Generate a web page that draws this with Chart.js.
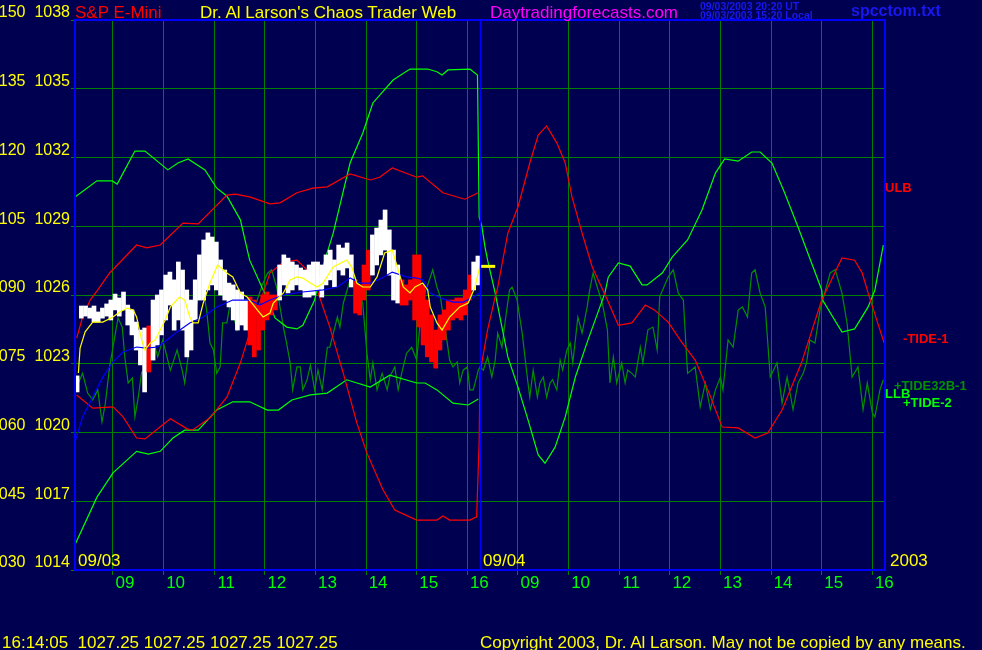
<!DOCTYPE html>
<html>
<head>
<meta charset="utf-8">
<script src="https://cdn.jsdelivr.net/npm/chart.js@4.4.0/dist/chart.umd.min.js"></script>
<style>
  html, body { margin: 0; padding: 0; background: #000050; }
  #wrap { position: relative; width: 982px; height: 650px; overflow: hidden; background: #000050; }
  #chart { position: absolute; left: 0; top: 0; }
  .t { position: absolute; white-space: nowrap; font-family: 'Liberation Sans', Arial, sans-serif; font-size: 17px; line-height: 17px; }
  .n { font-size: 17px; line-height: 17px; }
  .lb { font-weight: bold; font-size: 13px; line-height: 13px; }
  .sm { font-weight: bold; font-size: 10.5px; line-height: 9px; color: #1818f0; }
</style>
</head>
<body>
<div id="wrap">
  <canvas id="chart" width="982" height="650"></canvas>
  <div class="t" style="left:75px;top:4px;color:#ff0000">S&amp;P E-Mini</div>
  <div class="t" style="left:200px;top:4px;color:#ffff00">Dr. Al Larson's Chaos Trader Web</div>
  <div class="t" style="left:490px;top:4px;color:#ff00ff">Daytradingforecasts.com</div>
  <div class="t sm" style="left:700px;top:2px">09/03/2003 20:20 UT<br>09/03/2003 15:20 Local</div>
  <div class="t" style="left:851px;top:2px;color:#1818f0;font-weight:bold;font-size:16px">spcctom.txt</div>
  <div class="t n" style="left:78px;top:552px;color:#ffff00">09/03</div>
  <div class="t n" style="left:483px;top:552px;color:#ffff00">09/04</div>
  <div class="t n" style="left:890px;top:552px;color:#ffff00">2003</div>
  <div class="t lb" style="left:885px;top:181px;color:#ff0000">ULB</div>
  <div class="t lb" style="left:903px;top:332px;color:#ff0000">-TIDE-1</div>
  <div class="t lb" style="left:894px;top:379px;color:#009000">+TIDE32B-1</div>
  <div class="t lb" style="left:885px;top:387px;color:#00ff00">LLB</div>
  <div class="t lb" style="left:903px;top:396px;color:#00ff00">+TIDE-2</div>
  <div class="t" style="left:2px;top:634px;color:#ffff00">16:14:05&nbsp; 1027.25 1027.25 1027.25 1027.25</div>
  <div class="t" style="left:480px;top:634px;color:#ffff00">Copyright 2003, Dr. Al Larson. May not be copied by any means.</div>
</div>
<script>
// x = session minutes: 0..480 is 09/03 08:15-16:15, 480..960 is 09/04
const hourTicks = [45, 105, 165, 225, 285, 345, 405, 465, 525, 585, 645, 705, 765, 825, 885, 945];
const hourLabels = ['09', '10', '11', '12', '13', '14', '15', '16', '09', '10', '11', '12', '13', '14', '15', '16'];
const dayBreak = 480;

// 5 minute price bars, 09/03
const barStart = 2.5, barStep = 5;
const barHigh = [1022.47, 1025.52, 1025.52, 1025.43, 1025.52, 1025.26, 1025.43, 1025.61, 1025.78, 1026.04,
  1025.87, 1026.13, 1025.56, 1025.35, 1024.82, 1024.47, 1024.56, 1024.65, 1025.78, 1026.00,
  1026.22, 1026.87, 1027.00, 1026.66, 1027.44, 1027.09, 1026.22, 1025.78, 1026.66, 1027.75,
  1028.40, 1028.71, 1028.53, 1028.31, 1027.53, 1027.09, 1026.52, 1026.44, 1026.22, 1026.13,
  1025.78, 1025.91, 1025.78, 1025.56, 1026.00, 1026.13, 1026.00, 1026.00, 1027.31, 1027.75,
  1027.61, 1027.44, 1027.31, 1027.18, 1027.09, 1027.31, 1027.44, 1027.44, 1027.31, 1027.75,
  1027.96, 1027.53, 1028.18, 1028.05, 1028.27, 1027.75, 1026.66, 1026.44, 1027.31, 1027.96,
  1028.62, 1028.92, 1029.27, 1029.71, 1028.84, 1027.96, 1027.31, 1026.66, 1026.44, 1026.66,
  1027.75, 1027.75, 1026.44, 1025.78, 1025.13, 1024.47, 1025.13, 1025.35, 1025.78, 1025.78,
  1025.87, 1025.87, 1026.22, 1026.87, 1027.44, 1027.70];
const barLow = [1021.77, 1024.99, 1025.08, 1024.99, 1024.82, 1024.82, 1024.99, 1025.08, 1024.91, 1025.35,
  1025.08, 1025.35, 1024.69, 1024.26, 1023.60, 1022.95, 1021.77, 1022.64, 1023.16, 1023.82,
  1024.26, 1024.91, 1025.56, 1024.47, 1024.91, 1024.47, 1023.30, 1023.60, 1024.91, 1025.78,
  1025.78, 1026.22, 1026.44, 1026.22, 1026.00, 1025.78, 1025.48, 1024.91, 1024.47, 1024.69,
  1024.47, 1023.82, 1023.30, 1023.60, 1024.47, 1024.91, 1025.13, 1025.35, 1025.78, 1026.44,
  1026.09, 1026.22, 1026.44, 1026.22, 1025.91, 1025.91, 1026.00, 1026.22, 1025.91, 1026.44,
  1026.66, 1026.35, 1027.09, 1026.87, 1027.18, 1026.35, 1025.21, 1025.13, 1025.78, 1026.22,
  1026.87, 1027.31, 1027.75, 1027.96, 1026.87, 1025.78, 1025.65, 1025.56, 1025.56, 1025.78,
  1024.91, 1024.60, 1023.82, 1023.30, 1023.08, 1022.81, 1023.60, 1024.04, 1024.47, 1024.91,
  1025.00, 1024.91, 1025.13, 1025.78, 1026.22, 1026.44];
const barColor = 'WWWWWWWWWWWWWWWWWRWWWWWWWWWWWWWWWWWWWWWWWRRRRRRRWWWWWWWWWWWWWWWWWWRRRRWWWWWWWRRRRRRRRRRRRRRRRRWW';

// price averages [minute, price]
const fastAvg = [[4, 1022.60], [6, 1023.68], [12, 1024.39], [21, 1024.82], [33, 1024.82], [45, 1025.04], [53, 1025.26],
  [62, 1025.43], [69, 1025.35], [73, 1025.04], [79, 1024.04], [83, 1023.60], [89, 1023.90], [95, 1024.04],
  [101, 1024.47], [107, 1024.91], [113, 1025.48], [124, 1025.91], [130, 1025.78], [136, 1025.04], [140, 1024.78],
  [146, 1024.78], [152, 1025.65], [160, 1026.52], [169, 1027.31], [180, 1026.96], [187, 1026.79], [196, 1026.09],
  [204, 1025.91], [216, 1025.35], [223, 1025.04], [231, 1025.21], [235, 1025.65], [247, 1026.09], [255, 1026.66],
  [263, 1026.79], [270, 1026.74], [279, 1026.52], [287, 1026.35], [294, 1026.52], [306, 1027.22], [322, 1027.53],
  [328, 1027.22], [334, 1026.52], [341, 1026.35], [350, 1026.35], [358, 1026.79], [367, 1027.83], [376, 1027.96],
  [382, 1027.22], [389, 1026.35], [397, 1026.09], [403, 1026.35], [412, 1026.52], [418, 1026.22], [421, 1025.48],
  [429, 1024.78], [435, 1024.47], [444, 1025.04], [456, 1025.48], [466, 1025.65], [474, 1026.35], [480, 1027.27]];
const slowAvg = [[0, 1019.59], [9, 1020.68], [21, 1021.55], [33, 1022.42], [45, 1023.08], [57, 1023.51], [73, 1023.73],
  [85, 1023.68], [98, 1023.73], [109, 1024.04], [121, 1024.39], [136, 1024.78], [152, 1025.04], [168, 1025.48],
  [187, 1025.78], [207, 1025.78], [219, 1025.56], [231, 1025.78], [247, 1026.00], [270, 1026.13], [294, 1026.22],
  [311, 1026.35], [326, 1026.74], [338, 1026.52], [350, 1026.52], [364, 1026.74], [376, 1027.00], [393, 1026.79],
  [405, 1026.74], [412, 1026.66], [421, 1026.09], [433, 1025.87], [448, 1025.69], [460, 1025.69], [472, 1025.91],
  [480, 1026.09]];
const lastPrice = [[480, 1027.25], [498, 1027.25]];

// indicator lines [minute, value on the 030-150 scale]
const ulb = [[2, 80.6], [9, 85.2], [18, 88.9], [27, 91.1], [41, 94.8], [73, 100.9], [85, 100.3], [101, 100.9],
  [128, 105.7], [146, 105.5], [180, 111.8], [190, 112.0], [207, 111.4], [231, 109.9], [243, 110.1], [263, 112.3],
  [282, 113.3], [299, 113.6], [326, 116.4], [350, 115.1], [361, 115.7], [376, 117.7], [405, 115.7], [412, 116.0],
  [436, 112.3], [462, 110.9], [478, 112.3]];
const llb = [[0, 35.5], [26, 45.9], [45, 51.2], [73, 55.9], [87, 55.3], [101, 55.9], [116, 58.8], [130, 60.5],
  [146, 60.5], [168, 64.9], [187, 66.7], [207, 66.7], [228, 64.9], [241, 64.9], [257, 67.1], [279, 68.2],
  [299, 68.6], [322, 71.5], [350, 69.9], [373, 72.5], [405, 70.8], [415, 70.8], [429, 69.3], [448, 66.4],
  [466, 66.0], [478, 67.3]];
const tide1 = [[2, 68.2], [21, 65.3], [45, 65.6], [57, 63.4], [73, 58.8], [83, 58.6], [113, 63.0], [133, 60.8],
  [139, 60.5], [160, 63.2], [180, 67.7], [196, 75.2], [207, 81.7], [231, 94.8], [247, 97.2], [263, 97.6],
  [275, 95.5], [287, 91.1], [302, 83.0], [318, 72.9], [334, 62.1], [346, 55.5], [365, 47.5], [379, 43.1],
  [405, 40.9], [429, 40.9], [436, 41.8], [444, 40.9], [468, 40.9], [476, 41.6], [479, 58.0], [480, 73.0],
  [489, 82.4], [498, 89.6], [501, 91.7], [513, 103.5], [525, 109.2], [539, 118.8], [549, 124.9], [559, 126.9],
  [571, 123.2], [581, 118.8], [589, 111.4], [601, 103.5], [613, 96.1], [631, 88.9], [644, 83.4], [660, 83.9],
  [676, 87.8], [687, 86.7], [703, 84.1], [719, 79.7], [735, 75.8], [750, 69.3], [767, 61.2], [786, 61.0],
  [806, 58.8], [821, 59.9], [838, 64.9], [861, 75.2], [885, 88.9], [909, 98.1], [924, 97.6], [933, 94.8],
  [940, 90.4], [959, 79.5]];
const tide2 = [[0, 111.4], [26, 114.9], [44, 114.9], [50, 114.2], [59, 117.3], [71, 121.4], [83, 121.4], [110, 117.3],
  [122, 118.8], [134, 119.7], [154, 117.3], [168, 113.3], [180, 111.6], [196, 106.4], [207, 97.6], [223, 91.1],
  [228, 89.3], [237, 85.0], [251, 83.0], [263, 82.6], [270, 83.4], [284, 88.9], [290, 93.9], [306, 103.5],
  [326, 118.8], [341, 125.3], [353, 131.9], [377, 136.9], [397, 139.3], [418, 139.3], [429, 138.7], [435, 138.0],
  [442, 139.1], [468, 139.3], [477, 138.0], [479, 107.0], [482, 105.2], [486, 100.4], [489, 97.6], [498, 90.4],
  [513, 76.5], [525, 69.9], [537, 62.7], [549, 55.1], [557, 53.3], [569, 56.8], [581, 63.4], [593, 72.1],
  [608, 80.2], [628, 90.4], [632, 93.9], [644, 97.0], [658, 96.3], [672, 92.2], [678, 92.2], [696, 94.8],
  [708, 98.3], [726, 102.0], [743, 108.5], [759, 116.6], [770, 119.7], [786, 119.2], [802, 121.2], [812, 121.2],
  [826, 118.8], [841, 112.3], [857, 104.8], [885, 91.1], [886, 88.9], [909, 81.9], [924, 82.6], [940, 87.4],
  [948, 91.1], [958, 100.9]];
const tide32b = [[0, 69.3], [4, 70.8], [9, 72.9], [15, 68.6], [21, 67.1], [27, 69.3], [32, 62.3], [36, 66.4],
  [41, 74.3], [45, 78.6], [51, 85.0], [56, 83.0], [59, 76.5], [63, 70.8], [68, 71.9], [71, 63.4], [75, 67.7],
  [79, 73.2], [83, 72.9], [87, 80.8], [92, 80.8], [98, 76.5], [104, 80.2], [109, 76.5], [113, 73.6], [116, 75.2],
  [121, 78.0], [127, 73.6], [130, 70.8], [134, 76.5], [140, 84.5], [145, 88.2], [148, 92.6], [154, 88.9],
  [156, 86.7], [160, 79.5], [164, 78.0], [168, 72.9], [172, 74.3], [175, 83.9], [180, 83.9], [184, 88.2],
  [192, 82.4], [196, 85.2], [204, 83.0], [210, 85.2], [216, 88.9], [222, 92.2], [228, 94.7], [233, 95.5],
  [239, 91.7], [247, 83.0], [251, 79.3], [255, 75.2], [258, 69.3], [263, 74.3], [267, 74.3], [270, 69.3],
  [275, 71.5], [279, 74.7], [284, 69.3], [288, 73.6], [293, 69.3], [299, 78.6], [302, 78.6], [311, 85.2],
  [314, 83.0], [318, 88.2], [326, 93.3], [332, 93.9], [338, 89.6], [341, 88.2], [346, 77.3], [350, 71.5],
  [353, 75.2], [358, 69.3], [364, 72.9], [370, 69.3], [373, 72.1], [379, 74.3], [383, 69.3], [388, 73.6],
  [393, 77.3], [399, 78.6], [405, 75.8], [409, 83.9], [412, 88.9], [424, 95.5], [429, 91.7], [433, 89.6],
  [439, 82.4], [444, 75.8], [448, 74.3], [453, 75.4], [456, 70.8], [460, 73.6], [465, 74.3], [468, 69.3],
  [472, 69.3], [478, 73.6], [480, 74.3], [484, 73.6], [489, 76.5], [494, 72.1], [498, 75.8], [501, 81.7],
  [506, 78.6], [510, 84.5], [515, 91.1], [518, 91.7], [524, 88.9], [530, 81.7], [536, 72.1], [539, 67.7],
  [543, 73.6], [548, 67.7], [551, 70.8], [555, 72.1], [559, 67.7], [563, 70.8], [566, 71.5], [571, 69.3],
  [575, 75.8], [578, 73.6], [583, 78.0], [587, 79.5], [590, 75.2], [596, 85.2], [601, 81.7], [607, 87.4],
  [610, 91.1], [614, 94.8], [620, 91.1], [625, 88.2], [631, 82.4], [634, 70.8], [638, 76.5], [642, 70.8],
  [648, 75.2], [652, 70.8], [655, 73.6], [660, 72.9], [664, 72.1], [670, 78.6], [673, 75.2], [679, 82.4],
  [685, 83.0], [690, 78.0], [693, 89.6], [703, 93.9], [709, 95.5], [715, 90.4], [721, 88.9], [726, 72.9],
  [735, 74.3], [741, 65.6], [747, 70.8], [753, 65.0], [759, 69.3], [765, 72.1], [768, 69.3], [774, 80.2],
  [780, 78.6], [786, 86.7], [791, 87.4], [797, 85.2], [800, 91.1], [802, 94.8], [806, 95.5], [812, 90.4],
  [818, 87.4], [824, 72.1], [832, 75.2], [838, 66.4], [844, 72.1], [851, 65.0], [857, 70.8], [863, 72.9],
  [867, 75.2], [871, 80.2], [877, 79.5], [883, 86.7], [895, 94.8], [901, 95.5], [909, 90.4], [915, 83.9],
  [921, 72.1], [928, 74.3], [934, 65.0], [939, 70.8], [945, 64.3], [948, 63.4], [954, 69.3], [958, 71.5]];

const pts = a => a.map(([x, y]) => ({ x, y }));
const line = (data, color, axis, width) => ({
  type: 'line', data: pts(data), borderColor: color, borderWidth: width || 1.2,
  pointRadius: 0, tension: 0, yAxisID: axis
});

const frame = {
  id: 'frame',
  afterDatasetsDraw(chart) {
    const { ctx, chartArea: a, scales } = chart;
    const xb = Math.round(scales.x.getPixelForValue(dayBreak)) + 0.5;
    ctx.save();
    ctx.strokeStyle = '#0000ff';
    ctx.lineWidth = 1.5;
    ctx.beginPath();
    ctx.moveTo(xb, a.top);
    ctx.lineTo(xb, a.bottom);
    ctx.stroke();
    ctx.lineWidth = 2;
    ctx.strokeRect(a.left, a.top, a.right - a.left, a.bottom - a.top);
    ctx.restore();
  }
};

new Chart(document.getElementById('chart'), {
  type: 'line',
  data: {
    datasets: [
      line(lastPrice, '#ffff00', 'y', 3),
      line(fastAvg, '#ffff00', 'y'),
      line(slowAvg, '#0000ff', 'y'),
      {
        type: 'bar',
        data: barHigh.map((h, i) => ({ x: barStart + i * barStep, y: [barLow[i], h] })),
        backgroundColor: barColor.split('').map(c => c === 'R' ? '#ff0000' : '#ffffff'),
        barThickness: 4,
        grouped: false,
        yAxisID: 'y'
      },
      line(tide1, '#ff0000', 'yi'),
      line(ulb, '#ff0000', 'yi'),
      line(llb, '#00ff00', 'yi'),
      line(tide2, '#00ff00', 'yi'),
      line(tide32b, '#009000', 'yi')
    ]
  },
  options: {
    responsive: false,
    animation: false,
    devicePixelRatio: 1,
    layout: { padding: { top: 20, right: 97, bottom: 50, left: 0 } },
    plugins: { legend: { display: false }, tooltip: { enabled: false } },
    scales: {
      x: {
        type: 'linear', min: 0, max: 960, offset: false,
        afterBuildTicks: s => { s.ticks = hourTicks.map(v => ({ value: v })); },
        afterFit: s => { s.height = 30; },
        grid: { color: '#008000', tickLength: 5, tickColor: '#008000', offset: false },
        border: { display: false },
        ticks: {
          autoSkip: false, maxRotation: 0, padding: -2, labelOffset: 12, color: '#00ff00',
          font: { family: "'Liberation Sans', Arial, sans-serif", size: 17 },
          callback: (v, i) => hourLabels[i]
        }
      },
      y: {
        type: 'linear', position: 'left', min: 1014, max: 1038,
        afterFit: s => { s.width = 75; },
        grid: { color: '#008000', tickLength: 4, tickColor: '#008000', offset: false },
        border: { display: false },
        ticks: {
          stepSize: 3, padding: 1, labelOffset: -7, color: '#ffff00',
          font: { family: "'Liberation Sans', Arial, sans-serif", size: 16 },
          callback: v => String(30 + (v - 1014) * 5).padStart(3, '0') + '  ' + v
        }
      },
      yi: { type: 'linear', display: false, min: 30, max: 150 }
    }
  },
  plugins: [frame]
});
</script>
</body>
</html>
